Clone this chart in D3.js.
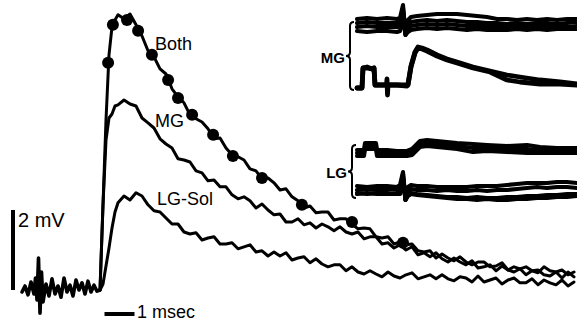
<!DOCTYPE html>
<html>
<head>
<meta charset="utf-8">
<script src="https://cdn.jsdelivr.net/npm/d3@7"></script>
<style>
  html, body { margin: 0; padding: 0; background: #fff; }
  svg { display: block; }
  .trace { fill: none; stroke: #000; stroke-linejoin: round; stroke-linecap: round; }
  .label { fill: #000; }
</style>
</head>
<body>
<div id="chart"></div>
<script>
// Main sweep: prestimulus baseline (ms, mV), shared by all three traces
const baselineTime = [-2.6, -2.5, -2.4, -2.3, -2.2, -2.15, -2.1, -2.05, -2.0, -1.95, -1.9, -1.8, -1.7, -1.6, -1.5,
  -1.4, -1.3, -1.2, -1.1, -1.0, -0.9, -0.8, -0.7, -0.6, -0.5, -0.4, -0.3, -0.2, -0.1, 0]
const baselineMv = [-0.05, 0.1, -0.12, 0.2, -0.1, 0.3, -0.25, 0.8, -0.58, 0.45, -0.3, 0.15, -0.15, 0.28, -0.1,
  0.1, -0.18, 0.3, -0.05, 0.12, -0.15, 0.25, 0.0, 0.18, -0.1, 0.22, -0.05, 0.12, -0.03, 0]

// Main sweep after stimulus (ms)
const sweepTime = [0, 0.1, 0.2, 0.3, 0.4, 0.5, 0.6, 0.8, 1.0, 1.2, 1.4, 1.6, 1.8, 2.0, 2.2, 2.4, 2.6, 2.8,
  3.0, 3.2, 3.4, 3.6, 3.8, 4.0, 4.2, 4.4, 4.6, 4.8, 5.0, 5.2, 5.4, 5.6, 5.8, 6.0, 6.2, 6.4, 6.6, 6.8,
  7.0, 7.2, 7.4, 7.6, 7.8, 8.0, 8.2, 8.4, 8.6, 8.8, 9.0, 9.2, 9.4, 9.6, 9.8, 10.0, 10.2, 10.4, 10.6, 10.8,
  11.0, 11.2, 11.4, 11.6, 11.8, 12.0, 12.2, 12.4, 12.6, 12.8, 13.0, 13.2, 13.4, 13.6, 13.8, 14.0, 14.2,
  14.4, 14.6, 14.8, 15.0, 15.2, 15.4, 15.6, 15.8]

const bothMv = [0, 2.13, 4.25, 5.88, 6.58, 6.75, 6.88, 6.78, 6.9, 6.63,
  6.35, 5.98, 5.83, 5.53, 5.4, 5.03, 4.83, 4.68, 4.38, 4.28, 4.2, 4.03, 3.78, 3.8, 3.55, 3.38, 3.33, 3.25,
  3.03, 2.98, 2.78, 2.8, 2.68, 2.5, 2.53, 2.33, 2.23, 2.05, 2.1, 1.93, 1.95, 1.95, 1.75, 1.78, 1.78, 1.65,
  1.53, 1.55, 1.53, 1.33, 1.3, 1.33, 1.15, 1.2, 1.13, 1.15, 0.98, 0.95, 0.98, 0.8, 0.9, 0.8, 0.73, 0.83,
  0.7, 0.63, 0.7, 0.7, 0.58, 0.6, 0.68, 0.5, 0.58, 0.53, 0.58, 0.48, 0.43, 0.58, 0.48, 0.45, 0.5, 0.38, 0.45]

const mgMv = [0, 2.13, 3.75, 4.3, 4.4, 4.6, 4.63, 4.75, 4.65, 4.6,
  4.3, 4.18, 4.05, 3.78, 3.65, 3.55, 3.28, 3.25, 3.2, 2.98, 2.93, 2.73, 2.75, 2.58, 2.58, 2.38, 2.28, 2.33,
  2.23, 2.05, 2.15, 2.0, 1.88, 1.9, 1.7, 1.7, 1.78, 1.63, 1.68, 1.55, 1.65, 1.58, 1.48, 1.58, 1.45, 1.4,
  1.45, 1.28, 1.33, 1.33, 1.15, 1.18, 1.05, 1.13, 1.0, 1.08, 0.88, 0.93, 0.83, 0.93, 0.78, 0.7, 0.8, 0.7,
  0.63, 0.73, 0.55, 0.58, 0.63, 0.48, 0.6, 0.5, 0.45, 0.53, 0.38, 0.48, 0.5, 0.38, 0.35, 0.45, 0.3, 0.45, 0.33]

const lgSolMv = [0, 0.15, 0.6, 1.05, 1.55, 1.95, 2.18, 2.35, 2.25, 2.43,
  2.35, 2.13, 1.98, 1.95, 1.8, 1.65, 1.65, 1.45, 1.4, 1.43, 1.25, 1.3, 1.33, 1.15, 1.15, 1.18, 1.03, 1.08,
  1.13, 0.95, 0.98, 0.85, 0.95, 0.85, 0.93, 0.75, 0.8, 0.83, 0.68, 0.78, 0.65, 0.58, 0.63, 0.63, 0.48, 0.58,
  0.45, 0.4, 0.48, 0.4, 0.33, 0.45, 0.35, 0.3, 0.38, 0.43, 0.28, 0.33, 0.38, 0.28, 0.38, 0.28, 0.23, 0.33,
  0.3, 0.2, 0.35, 0.2, 0.25, 0.3, 0.15, 0.25, 0.3, 0.18, 0.18, 0.28, 0.13, 0.25, 0.18, 0.13, 0.25, 0.1, 0.2]

// Filled markers on the "Both" trace [ms, mV]
const bothMarkers = [[0.27, 5.68], [0.43, 6.63], [0.9, 6.75], [1.27, 6.48], [1.73, 5.88], [2.27, 5.25],
  [2.6, 4.8], [3.07, 4.38], [3.77, 3.88], [4.43, 3.35], [5.4, 2.8], [6.73, 2.13], [8.4, 1.7], [10.1, 1.18]]

const traceLabels = ['Both', 'MG', 'LG-Sol']

// Inset records (ms; deflection in arbitrary units)
const insetSpikeTime = [0, 1, 2, 3, 4, 4.3, 4.6, 4.85, 5.1, 5.4, 6, 7, 8, 9, 10, 11, 12, 13, 14, 15, 16,
  17, 18, 19, 20, 21, 22]

const mgUpperSweeps = [
  [0.5, 0.6, 0.5, 0.6, 0.5, 0.6, 1.9, -1.0, 0.4, 0.7, 0.8, 0.9, 1.0, 1.0, 1.0, 0.9, 0.8, 0.7, 0.5, 0.5, 0.4, 0.5, 0.4, 0.5, 0.4, 0.5, 0.5],
  [0.1, 0.2, 0.1, 0.1, 0.1, 0.2, 1.6, -0.9, 0.0, 0.2, 0.3, 0.4, 0.3, 0.4, 0.3, 0.2, 0.2, 0.1, 0.1, 0.0, 0.1, 0.0, 0.1, 0.1, 0.0, 0.1, 0.2],
  [-0.3, -0.2, -0.3, -0.3, -0.3, -0.2, 1.2, -1.1, -0.4, -0.2, -0.1, 0.0, -0.1, 0.0, -0.1, -0.2, -0.2, -0.2, -0.3, -0.2, -0.3, -0.2, -0.3, -0.2, -0.2, -0.3, -0.2],
  [-0.7, -0.8, -0.7, -0.7, -0.8, -0.7, 0.6, -1.1, -0.8, -0.6, -0.5, -0.4, -0.5, -0.4, -0.5, -0.6, -0.5, -0.6, -0.6, -0.6, -0.5, -0.6, -0.5, -0.6, -0.5, -0.5, -0.5]
]

const lgLowerSweeps = [
  [0.4, 0.3, 0.4, 0.4, 0.3, 0.5, 1.8, -0.9, 0.3, 0.5, 0.4, 0.4, 0.3, 0.3, 0.3, 0.3, 0.4, 0.4, 0.4, 0.5, 0.6, 0.7, 0.7, 0.7, 0.8, 0.8, 0.7],
  [0.0, 0.1, 0.0, 0.0, 0.1, 0.1, 1.6, -1.0, -0.1, 0.1, 0.0, 0.0, -0.1, 0.0, -0.1, -0.1, 0.0, -0.1, 0.0, 0.0, 0.1, 0.2, 0.3, 0.2, 0.3, 0.3, 0.2],
  [-0.4, -0.3, -0.4, -0.4, -0.3, -0.3, 1.2, -1.0, -0.5, -0.3, -0.4, -0.5, -0.6, -0.7, -0.7, -0.8, -0.7, -0.8, -0.8, -0.7, -0.7, -0.6, -0.6, -0.5, -0.5, -0.4, -0.4],
  [-0.3, -0.4, -0.3, -0.4, -0.4, -0.4, 1.0, -1.0, -0.6, -0.4, -0.5, -0.6, -0.7, -0.8, -0.9, -0.9, -1.0, -0.9, -1.0, -1.0, -0.9, -0.9, -0.8, -0.8, -0.7, -0.7, -0.6]
]

const mgLowerTime = [0, 0.5, 0.6, 1.0, 1.5, 1.7, 1.8, 2.5, 2.95, 3.0, 3.05, 3.1, 4.0, 5.0, 5.1, 5.4, 5.8, 6.1,
  6.5, 7.0, 8.0, 9.0, 10.0, 11.6, 13.3, 15.0, 16.3, 18.3, 20.3, 22.0]
const mgLowerSweeps = [
  [-0.3, -0.3, 1.7, 1.8, 1.6, 1.7, 0, 0, 0, 0.6, -1.0, 0, 0, 0, 0.1, 1.9, 3.3, 3.8, 3.7, 3.5, 3.0, 2.6, 2.3, 1.8, 1.4, 1.0, 0.8, 0.5, 0.3, 0.1],
  [-0.3, -0.3, 1.7, 1.7, 1.6, 1.7, 0, 0, 0, 0, 0, 0, 0, -0.1, 0, 1.8, 3.2, 3.7, 3.6, 3.4, 2.9, 2.5, 2.2, 1.7, 1.3, 0.5, 0.3, 0.1, 0.1, 0.0]
]

const lgUpperTime = [0, 0.7, 0.8, 1.9, 2.0, 3, 4, 5.0, 5.5, 6.3, 7, 8, 10, 11.6, 13, 15, 17, 18.3, 20, 22]
const lgUpperSweeps = [
  [0.2, 0.2, 0.9, 0.9, 0.2, 0.2, 0.1, 0.1, 0.3, 1.1, 1.2, 1.1, 0.9, 0.8, 0.7, 0.6, 0.7, 0.5, 0.4, 0.4],
  [-0.1, -0.1, 0.6, 0.6, -0.1, -0.1, -0.2, -0.2, 0.0, 0.8, 0.9, 0.8, 0.6, 0.4, 0.4, 0.3, 0.3, 0.2, 0.2, 0.2],
  [-0.4, -0.4, 0.3, 0.3, -0.4, -0.4, -0.4, -0.4, -0.3, 0.5, 0.6, 0.5, 0.3, 0.0, 0.1, 0.0, -0.1, -0.1, -0.1, -0.1]
]

const insetLabels = ['MG', 'LG']

// Dimensions
const width = 577
const height = 322
const font = '"Liberation Sans", Arial, Helvetica, sans-serif'

const svg = d3.select('#chart')
  .append('svg')
  .attr('width', width)
  .attr('height', height)
  .attr('viewBox', `0 0 ${width} ${height}`)

svg.append('rect').attr('width', width).attr('height', height).attr('fill', '#fff')

// Scales for the main record: 30 px per ms, 40 px per mV
const xScale = d3.scaleLinear().domain([-2.6, 15.9]).range([22, 577])
const yScale = d3.scaleLinear().domain([0, 7]).range([290, 10])

const line = d3.line()
  .x(d => xScale(d[0]))
  .y(d => yScale(d[1]))

const pairs = (times, values) => times.map((t, i) => [t, values[i]])

const g = svg.append('g')

// Prestimulus baseline (overlaid sweeps)
g.append('path')
  .datum(pairs(baselineTime, baselineMv))
  .attr('class', 'trace')
  .attr('stroke-width', 3.6)
  .attr('d', line)

// Three responses
const sweeps = [lgSolMv, mgMv, bothMv]
sweeps.forEach(values => {
  g.append('path')
    .datum(pairs(sweepTime, values))
    .attr('class', 'trace')
    .attr('stroke-width', 3)
    .attr('d', line)
})

// Markers on "Both"
g.selectAll('circle.marker')
  .data(bothMarkers)
  .join('circle')
  .attr('class', 'marker')
  .attr('cx', d => xScale(d[0]))
  .attr('cy', d => yScale(d[1]))
  .attr('r', 6)
  .attr('fill', '#000')

// Trace labels
const labelPos = [[155, 50], [155, 127], [157, 205]]
traceLabels.forEach((txt, i) => {
  svg.append('text')
    .attr('class', 'label')
    .attr('x', labelPos[i][0])
    .attr('y', labelPos[i][1])
    .attr('font-family', font)
    .attr('font-size', 18)
    .text(txt)
})

// Scale bars
const barX = 13
svg.append('line')
  .attr('x1', barX).attr('x2', barX)
  .attr('y1', yScale(0)).attr('y2', yScale(2))
  .attr('stroke', '#000').attr('stroke-width', 4)
svg.append('text')
  .attr('class', 'label')
  .attr('x', 18).attr('y', 227)
  .attr('font-family', font).attr('font-size', 20)
  .text('2 mV')

const barY = 314
svg.append('line')
  .attr('x1', xScale(0.15)).attr('x2', xScale(1.15))
  .attr('y1', barY).attr('y2', barY)
  .attr('stroke', '#000').attr('stroke-width', 4)
svg.append('text')
  .attr('class', 'label')
  .attr('x', 137).attr('y', 318)
  .attr('font-family', font).attr('font-size', 18)
  .text('1 msec')

// Insets
const insetX = d3.scaleLinear().domain([0, 22]).range([357, 577])
const rowScale = base => d3.scaleLinear().domain([-1, 1]).range([base + 10, base - 10])

function drawSweeps(times, sweepSet, base, strokeWidth) {
  const y = rowScale(base)
  const rowLine = d3.line()
    .x(d => insetX(d[0]))
    .y(d => y(d[1]))
  sweepSet.forEach(values => {
    svg.append('path')
      .datum(pairs(times, values))
      .attr('class', 'trace')
      .attr('stroke-width', strokeWidth)
      .attr('d', rowLine)
  })
}

drawSweeps(insetSpikeTime, mgUpperSweeps, 24, 4.1)
drawSweeps(mgLowerTime, mgLowerSweeps, 85, 4.8)
drawSweeps(lgUpperTime, lgUpperSweeps, 152, 4.1)
drawSweeps(insetSpikeTime, lgLowerSweeps, 190, 4.1)

// Braces with labels
function brace(x, y0, y1, w) {
  const ym = (y0 + y1) / 2
  const p = d3.path()
  p.moveTo(x + w, y0)
  p.quadraticCurveTo(x, y0, x, y0 + w)
  p.lineTo(x, ym - w)
  p.quadraticCurveTo(x, ym, x - w, ym)
  p.quadraticCurveTo(x, ym, x, ym + w)
  p.lineTo(x, y1 - w)
  p.quadraticCurveTo(x, y1, x + w, y1)
  return p.toString()
}

const insetBraces = [[350, 22, 90, 63], [352, 145, 198, 178]]
insetLabels.forEach((txt, i) => {
  const [bx, y0, y1, ty] = insetBraces[i]
  svg.append('path')
    .attr('d', brace(bx, y0, y1, 4))
    .attr('fill', 'none')
    .attr('stroke', '#000')
    .attr('stroke-width', 2)
  svg.append('text')
    .attr('class', 'label')
    .attr('x', bx - 5)
    .attr('y', ty)
    .attr('text-anchor', 'end')
    .attr('font-family', font)
    .attr('font-size', 15)
    .attr('font-weight', 'bold')
    .text(txt)
})
</script>
</body>
</html>
